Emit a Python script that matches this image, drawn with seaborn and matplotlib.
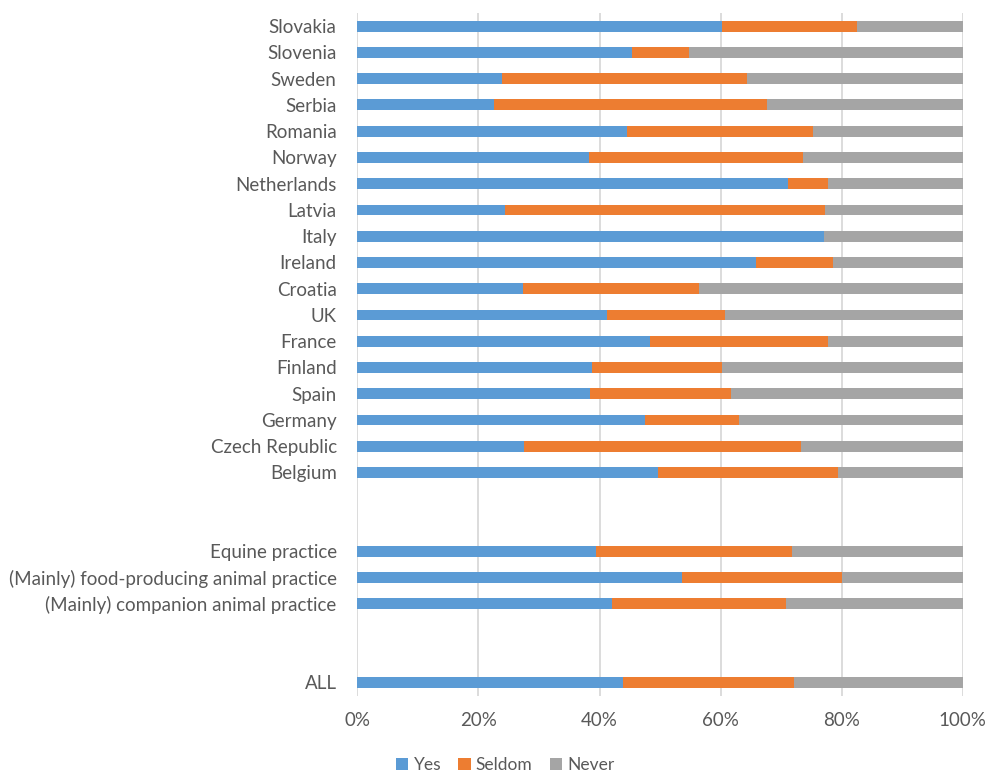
import matplotlib
matplotlib.use("Agg")
import matplotlib.pyplot as plt
import seaborn as sns
import pandas as pd
import numpy as np
from matplotlib.patches import Patch

# Row labels, top to bottom; None marks an empty spacer row
labels = [
    "Slovakia", "Slovenia", "Sweden", "Serbia", "Romania", "Norway",
    "Netherlands", "Latvia", "Italy", "Ireland", "Croatia", "UK", "France",
    "Finland", "Spain", "Germany", "Czech Republic", "Belgium",
    None, None,
    "Equine practice", "(Mainly) food-producing animal practice",
    "(Mainly) companion animal practice",
    None, None,
    "ALL",
]

# Share answering "Yes" (%)
yes = [
    60.2, 45.3, 23.9, 22.5, 44.6, 38.3, 71.2, 24.3, 77.1, 65.8, 27.4, 41.3,
    48.3, 38.7, 38.4, 47.6, 27.5, 49.6,
    None, None,
    39.4, 53.7, 42.1,
    None, None,
    43.9,
]

# Share answering "Seldom" (%)
seldom = [
    22.4, 9.5, 40.5, 45.2, 30.7, 35.4, 6.6, 53.0, 0.0, 12.8, 29.0, 19.5,
    29.5, 21.6, 23.3, 15.4, 45.8, 29.8,
    None, None,
    32.4, 26.3, 28.7,
    None, None,
    28.2,
]

series_names = ["Yes", "Seldom", "Never"]
series_colors = ["#5B9BD5", "#ED7D31", "#A5A5A5"]
text_color = "#595959"

# Unique keys for every row so spacer rows keep their slot on the axis
keys = [lab if lab is not None else f"__gap{i}" for i, lab in enumerate(labels)]
rows = []
for k, y, s in zip(keys, yes, seldom):
    if y is None:
        continue
    never = 100.0 - y - s
    rows.append({"key": k, "yes_end": y, "seldom_end": y + s, "never_end": y + s + never})
df = pd.DataFrame(rows)

sns.set_theme(style="white")
plt.rcParams["font.family"] = ["Lato", "DejaVu Sans"]

fig = plt.figure(figsize=(9.87, 7.74), dpi=100)
ax = fig.add_axes([0.3622, 0.1014, 0.6130, 0.8818])

bar_w = 0.41
# Stacked 100% bars: draw cumulative ends from the back to the front
sns.barplot(data=df, x="never_end", y="key", order=keys, color=series_colors[2],
            width=bar_w, saturation=1, orient="h", ax=ax, errorbar=None)
sns.barplot(data=df, x="seldom_end", y="key", order=keys, color=series_colors[1],
            width=bar_w, saturation=1, orient="h", ax=ax, errorbar=None)
sns.barplot(data=df, x="yes_end", y="key", order=keys, color=series_colors[0],
            width=bar_w, saturation=1, orient="h", ax=ax, errorbar=None)

for p in ax.patches:
    p.set_linewidth(0)

ax.set_xlim(0, 100)
ax.set_ylim(len(keys) - 0.5, -0.5)
ax.set_xticks(np.arange(0, 101, 20))
ax.set_xticklabels([f"{v}%" for v in range(0, 101, 20)])
ax.set_yticks(range(len(keys)))
ax.set_yticklabels([lab if lab is not None else "" for lab in labels])

ax.set_xlabel("")
ax.set_ylabel("")
ax.grid(axis="x", color="#D9D9D9", linewidth=1.3)
ax.grid(axis="y", visible=False)
ax.set_axisbelow(True)
for sp in ax.spines.values():
    sp.set_visible(False)

ax.tick_params(axis="y", length=0, pad=15, labelsize=13.5, labelcolor=text_color)
ax.tick_params(axis="x", length=0, pad=12, labelsize=13.5, labelcolor=text_color)

handles = [Patch(facecolor=c, edgecolor="none") for c in series_colors]
fig.legend(handles, series_names, loc="center", bbox_to_anchor=(0.512, 0.0115),
           ncol=3, frameon=False, fontsize=12.5, labelcolor=text_color,
           handlelength=0.7, handleheight=0.7, handletextpad=0.3, columnspacing=1.0)

fig.savefig("out.png", dpi=100, facecolor="white")
